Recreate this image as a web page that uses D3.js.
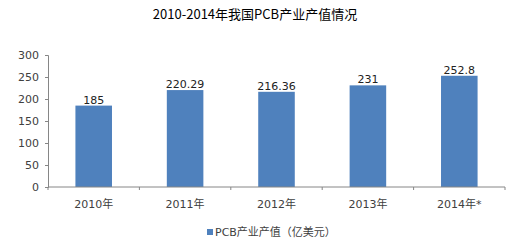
<!DOCTYPE html>
<html lang="zh">
  <head>
    <meta charset="UTF-8" />
    <title>2010-2014年我国PCB产业产值情况</title>
    <style>
      body { margin: 0; background: #fff; }
      .chart text { font-family: "DejaVu Sans", "Noto Sans CJK SC", sans-serif; }
    </style>
  </head>
  <body>
    <div class="chart"></div>
    <script src="https://d3js.org/d3.v7.min.js"></script>
    <script>
      const width = 510;
      const height = 246;

      const years = ["2010年", "2011年", "2012年", "2013年", "2014年*"];
      const values = [185, 220.29, 216.36, 231, 252.8];
      const valueLabels = ["185", "220.29", "216.36", "231", "252.8"];
      const yTicks = [0, 50, 100, 150, 200, 250, 300];

      const margin = { top: 55, right: 5, bottom: 59, left: 48 };

      const svg = d3
        .select(".chart")
        .append("svg")
        .attr("width", width)
        .attr("height", height);

      // 标题
      svg
        .append("text")
        .attr("x", 255)
        .attr("y", 19)
        .attr("text-anchor", "middle")
        .style("font-family", "'Noto Sans CJK SC', serif")
        .style("font-size", "13px")
        .style("fill", "#000")
        .text("2010-2014年我国PCB产业产值情况");

      const x = d3
        .scaleBand()
        .domain(years)
        .range([margin.left, width - margin.right])
        .paddingInner(0.6)
        .paddingOuter(0.3);

      const y = d3
        .scaleLinear()
        .domain([0, 300])
        .range([height - margin.bottom, margin.top]);

      // y 轴
      const yAxis = svg
        .append("g")
        .attr("transform", `translate(${margin.left},0)`)
        .call(d3.axisLeft(y).tickValues(yTicks).tickSize(3).tickPadding(6));
      yAxis.select(".domain").attr("stroke", "#868686");
      yAxis.selectAll(".tick line").attr("stroke", "#868686");
      yAxis.selectAll("text").style("font-size", "11px").style("fill", "#404040");

      // 柱子
      svg
        .append("g")
        .selectAll("rect")
        .data(values)
        .join("rect")
        .attr("x", (d, i) => x(years[i]))
        .attr("y", (d) => y(d))
        .attr("width", x.bandwidth())
        .attr("height", (d) => y(0) - y(d))
        .attr("fill", "#4f81bd");

      // 数值标签
      svg
        .append("g")
        .selectAll("text")
        .data(values)
        .join("text")
        .attr("x", (d, i) => x(years[i]) + x.bandwidth() / 2)
        .attr("y", (d) => y(d) - 2)
        .attr("text-anchor", "middle")
        .style("font-size", "11px")
        .style("fill", "#222")
        .text((d, i) => valueLabels[i]);

      // x 轴
      const step = x.step();
      const xAxis = svg
        .append("g")
        .attr("transform", `translate(0,${y(0)})`);
      xAxis
        .append("line")
        .attr("x1", margin.left)
        .attr("x2", width - margin.right)
        .attr("stroke", "#868686");
      const bounds = d3.range(years.length + 1).map(
        (i) => margin.left + ((width - margin.right - margin.left) / years.length) * i
      );
      xAxis
        .selectAll(".tk")
        .data(bounds)
        .join("line")
        .attr("class", "tk")
        .attr("x1", (d) => d)
        .attr("x2", (d) => d)
        .attr("y1", 0)
        .attr("y2", 3)
        .attr("stroke", "#868686");
      xAxis
        .selectAll("text")
        .data(years)
        .join("text")
        .attr("x", (d) => x(d) + x.bandwidth() / 2)
        .attr("y", 21)
        .attr("text-anchor", "middle")
        .style("font-size", "11px")
        .style("fill", "#404040")
        .text((d) => d);

      // 图例
      const legend = svg.append("g").attr("transform", "translate(207,236)");
      legend
        .append("rect")
        .attr("x", 0)
        .attr("y", -7)
        .attr("width", 6)
        .attr("height", 6)
        .attr("fill", "#4f81bd");
      legend
        .append("text")
        .attr("x", 8)
        .attr("y", 0)
        .style("font-size", "11px")
        .style("fill", "#404040")
        .text("PCB产业产值（亿美元）");
    </script>
  </body>
</html>
